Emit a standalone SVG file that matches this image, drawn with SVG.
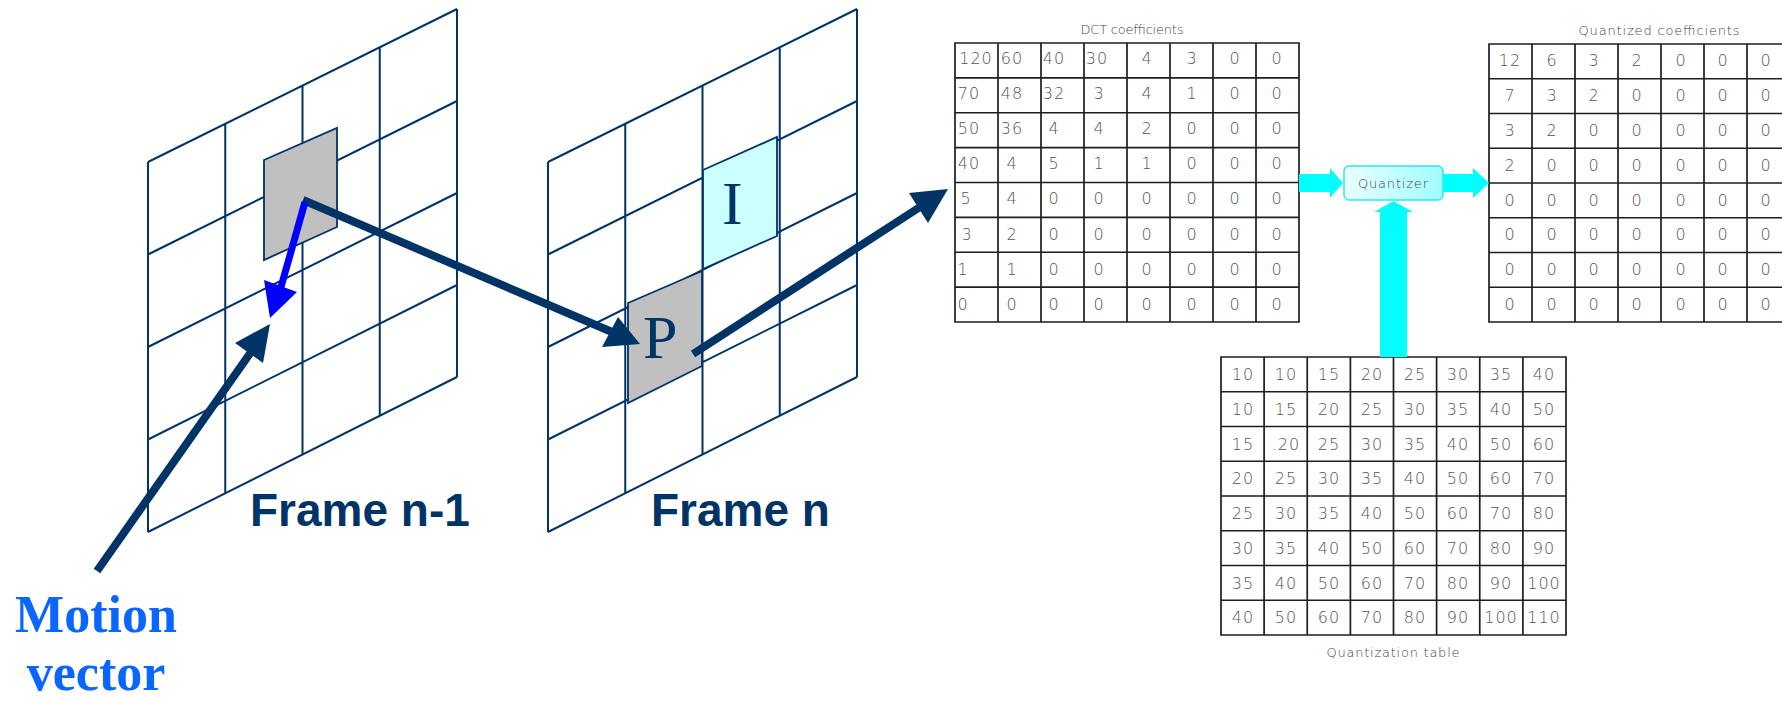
<svg xmlns="http://www.w3.org/2000/svg" width="1782" height="702" viewBox="0 0 1782 702">
  <defs>
    <linearGradient id="qbox" x1="0" y1="0" x2="1" y2="0">
      <stop offset="0" stop-color="#eaffff"/>
      <stop offset="1" stop-color="#9ffcff"/>
    </linearGradient>
    <style>
      .grid { fill: none; stroke: #003366; stroke-width: 2; }
      .blk { stroke: #003366; stroke-width: 1.8; }
      .mv { fill: none; stroke: #003366; stroke-width: 8; }
      .head { fill: #003366; }
      .cyan { fill: #00ffff; }
      .tbl { fill: none; stroke: #1e1e1e; stroke-width: 1.7; }
      .num { font-family: "DejaVu Sans", "Liberation Sans", sans-serif; font-size: 16px; font-weight: 300; fill: #555; text-anchor: middle; letter-spacing: 1px; }
      .cap { font-family: "DejaVu Sans", "Liberation Sans", sans-serif; font-size: 13px; font-weight: 300; fill: #444; text-anchor: middle; }
      .frame { font-family: "Liberation Sans", Arial, sans-serif; font-size: 46px; font-weight: bold; fill: #003366; }
      .blklabel { font-family: "Liberation Serif", "Times New Roman", serif; font-size: 62px; fill: #003366; }
      .motion { font-family: "Liberation Serif", "Times New Roman", serif; font-size: 52px; font-weight: bold; fill: #0a66ff; text-anchor: middle; }
    </style>
  </defs>
  <rect width="1782" height="702" fill="#ffffff"/>

  <!-- previous frame: 4x4 macroblock grid seen in perspective -->
  <g id="frame-prev">
    <path class="grid" d="M148,162 L148,532 M225.25,123.75 L225.25,493.25 M302.5,85.5 L302.5,454.5 M379.75,47.25 L379.75,415.75 M457,9 L457,377
      M148,162 L457,9 M148,254.5 L457,101 M148,347 L457,193 M148,439.5 L457,285 M148,532 L457,377"/>
    <polygon class="blk" fill="#c0c0c0" points="264,160 337,128 337,227 264,260"/>
    <text class="frame" x="250" y="526">Frame n-1</text>
  </g>

  <!-- current frame with intra and predicted blocks -->
  <g id="frame-curr">
    <path class="grid" d="M548,162 L548,532 M625.25,123.75 L625.25,493.25 M702.5,85.5 L702.5,454.5 M779.75,47.25 L779.75,415.75 M857,9 L857,377
      M548,162 L857,9 M548,254.5 L857,101 M548,347 L857,193 M548,439.5 L857,285 M548,532 L857,377"/>
    <polygon class="blk" fill="#ccffff" points="703,170 777,137 777,236 703,269"/>
    <polygon class="blk" fill="#c0c0c0" points="628,303 702,271 702,366 628,403"/>
    <text class="blklabel" x="722" y="224">I</text>
    <text class="blklabel" x="643" y="358">P</text>
    <text class="frame" x="651" y="526">Frame n</text>
  </g>

  <!-- DCT coefficient block -->
  <g id="dct-table">
    <text class="cap" x="1132" y="34" textLength="103">DCT coefficients</text>
    <path class="tbl" d="M955,43 H1299 V322 H955 Z
      M998,43 V322 M1041,43 V322 M1084,43 V322 M1127,43 V322 M1170,43 V322 M1213,43 V322 M1256,43 V322
      M955,77.9 H1299 M955,112.75 H1299 M955,147.6 H1299 M955,182.5 H1299 M955,217.4 H1299 M955,252.25 H1299 M955,287.1 H1299"/>
    <g class="num">
      <text x="976" y="64">120</text><text x="1012" y="64">60</text><text x="1054" y="64">40</text><text x="1097" y="64">30</text><text x="1147" y="64">4</text><text x="1192" y="64">3</text><text x="1235" y="64">0</text><text x="1277" y="64">0</text>
      <text x="969" y="99">70</text><text x="1012" y="99">48</text><text x="1054" y="99">32</text><text x="1099" y="99">3</text><text x="1147" y="99">4</text><text x="1192" y="99">1</text><text x="1235" y="99">0</text><text x="1277" y="99">0</text>
      <text x="969" y="134">50</text><text x="1012" y="134">36</text><text x="1054" y="134">4</text><text x="1099" y="134">4</text><text x="1147" y="134">2</text><text x="1192" y="134">0</text><text x="1235" y="134">0</text><text x="1277" y="134">0</text>
      <text x="969" y="169">40</text><text x="1012" y="169">4</text><text x="1054" y="169">5</text><text x="1099" y="169">1</text><text x="1147" y="169">1</text><text x="1192" y="169">0</text><text x="1235" y="169">0</text><text x="1277" y="169">0</text>
      <text x="966" y="204">5</text><text x="1012" y="204">4</text><text x="1054" y="204">0</text><text x="1099" y="204">0</text><text x="1147" y="204">0</text><text x="1192" y="204">0</text><text x="1235" y="204">0</text><text x="1277" y="204">0</text>
      <text x="967" y="240">3</text><text x="1012" y="240">2</text><text x="1054" y="240">0</text><text x="1099" y="240">0</text><text x="1147" y="240">0</text><text x="1192" y="240">0</text><text x="1235" y="240">0</text><text x="1277" y="240">0</text>
      <text x="963" y="275">1</text><text x="1012" y="275">1</text><text x="1054" y="275">0</text><text x="1099" y="275">0</text><text x="1147" y="275">0</text><text x="1192" y="275">0</text><text x="1235" y="275">0</text><text x="1277" y="275">0</text>
      <text x="963" y="310">0</text><text x="1012" y="310">0</text><text x="1054" y="310">0</text><text x="1099" y="310">0</text><text x="1147" y="310">0</text><text x="1192" y="310">0</text><text x="1235" y="310">0</text><text x="1277" y="310">0</text>
    </g>
  </g>

  <!-- quantizer stage -->
  <g id="quantizer">
    <rect x="1344" y="166" width="99" height="34" rx="5" ry="5" fill="url(#qbox)" stroke="#2ee8f2" stroke-width="1.5"/>
    <text class="cap" x="1393" y="188" font-size="15" fill="#333" textLength="70">Quantizer</text>
  </g>

  <!-- quantized output block (runs past the right edge) -->
  <g id="quantized-table">
    <text class="cap" x="1659" y="35" textLength="161">Quantized coefficients</text>
    <path class="tbl" d="M1800,44 H1489 V322 H1800
      M1532,44 V322 M1575,44 V322 M1618,44 V322 M1661,44 V322 M1704,44 V322 M1747,44 V322
      M1489,78.75 H1800 M1489,113.5 H1800 M1489,148.25 H1800 M1489,183 H1800 M1489,217.75 H1800 M1489,252.5 H1800 M1489,287.25 H1800"/>
    <g class="num">
      <text x="1510" y="66">12</text><text x="1552" y="66">6</text><text x="1594" y="66">3</text><text x="1637" y="66">2</text><text x="1681" y="66">0</text><text x="1723" y="66">0</text><text x="1766" y="66">0</text>
      <text x="1510" y="101">7</text><text x="1552" y="101">3</text><text x="1594" y="101">2</text><text x="1637" y="101">0</text><text x="1681" y="101">0</text><text x="1723" y="101">0</text><text x="1766" y="101">0</text>
      <text x="1510" y="136">3</text><text x="1552" y="136">2</text><text x="1594" y="136">0</text><text x="1637" y="136">0</text><text x="1681" y="136">0</text><text x="1723" y="136">0</text><text x="1766" y="136">0</text>
      <text x="1510" y="171">2</text><text x="1552" y="171">0</text><text x="1594" y="171">0</text><text x="1637" y="171">0</text><text x="1681" y="171">0</text><text x="1723" y="171">0</text><text x="1766" y="171">0</text>
      <text x="1510" y="206">0</text><text x="1552" y="206">0</text><text x="1594" y="206">0</text><text x="1637" y="206">0</text><text x="1681" y="206">0</text><text x="1723" y="206">0</text><text x="1766" y="206">0</text>
      <text x="1510" y="240">0</text><text x="1552" y="240">0</text><text x="1594" y="240">0</text><text x="1637" y="240">0</text><text x="1681" y="240">0</text><text x="1723" y="240">0</text><text x="1766" y="240">0</text>
      <text x="1510" y="275">0</text><text x="1552" y="275">0</text><text x="1594" y="275">0</text><text x="1637" y="275">0</text><text x="1681" y="275">0</text><text x="1723" y="275">0</text><text x="1766" y="275">0</text>
      <text x="1510" y="310">0</text><text x="1552" y="310">0</text><text x="1594" y="310">0</text><text x="1637" y="310">0</text><text x="1681" y="310">0</text><text x="1723" y="310">0</text><text x="1766" y="310">0</text>
    </g>
  </g>

  <!-- quantization step sizes -->
  <g id="quant-table">
    <path class="tbl" d="M1221,357 H1566 V635 H1221 Z
      M1264.1,357 V635 M1307.25,357 V635 M1350.4,357 V635 M1393.5,357 V635 M1436.6,357 V635 M1479.75,357 V635 M1522.9,357 V635
      M1221,391.75 H1566 M1221,426.5 H1566 M1221,461.25 H1566 M1221,496 H1566 M1221,530.75 H1566 M1221,565.5 H1566 M1221,600.25 H1566"/>
    <g class="num">
      <text x="1243" y="380">10</text><text x="1286" y="380">10</text><text x="1329" y="380">15</text><text x="1372" y="380">20</text><text x="1415" y="380">25</text><text x="1458" y="380">30</text><text x="1501" y="380">35</text><text x="1544" y="380">40</text>
      <text x="1243" y="415">10</text><text x="1286" y="415">15</text><text x="1329" y="415">20</text><text x="1372" y="415">25</text><text x="1415" y="415">30</text><text x="1458" y="415">35</text><text x="1501" y="415">40</text><text x="1544" y="415">50</text>
      <text x="1243" y="449.5">15</text><text x="1286" y="449.5">.20</text><text x="1329" y="449.5">25</text><text x="1372" y="449.5">30</text><text x="1415" y="449.5">35</text><text x="1458" y="449.5">40</text><text x="1501" y="449.5">50</text><text x="1544" y="449.5">60</text>
      <text x="1243" y="484">20</text><text x="1286" y="484">25</text><text x="1329" y="484">30</text><text x="1372" y="484">35</text><text x="1415" y="484">40</text><text x="1458" y="484">50</text><text x="1501" y="484">60</text><text x="1544" y="484">70</text>
      <text x="1243" y="519">25</text><text x="1286" y="519">30</text><text x="1329" y="519">35</text><text x="1372" y="519">40</text><text x="1415" y="519">50</text><text x="1458" y="519">60</text><text x="1501" y="519">70</text><text x="1544" y="519">80</text>
      <text x="1243" y="554">30</text><text x="1286" y="554">35</text><text x="1329" y="554">40</text><text x="1372" y="554">50</text><text x="1415" y="554">60</text><text x="1458" y="554">70</text><text x="1501" y="554">80</text><text x="1544" y="554">90</text>
      <text x="1243" y="588.5">35</text><text x="1286" y="588.5">40</text><text x="1329" y="588.5">50</text><text x="1372" y="588.5">60</text><text x="1415" y="588.5">70</text><text x="1458" y="588.5">80</text><text x="1501" y="588.5">90</text><text x="1544" y="588.5">100</text>
      <text x="1243" y="623">40</text><text x="1286" y="623">50</text><text x="1329" y="623">60</text><text x="1372" y="623">70</text><text x="1415" y="623">80</text><text x="1458" y="623">90</text><text x="1501" y="623">100</text><text x="1544" y="623">110</text>
    </g>
    <text class="cap" x="1393" y="657" textLength="133">Quantization table</text>
  </g>

  <!-- label for the motion vector -->
  <g id="label-motion">
    <text class="motion" x="96" y="632">Motion</text>
    <text class="motion" x="96" y="690">vector</text>
  </g>

  <!-- connectors: motion-compensation arrows and the cyan data-flow arrows -->
  <g id="connectors">
    <line class="mv" x1="303" y1="200" x2="612" y2="332"/>
    <polygon class="head" points="640,344 602,347 618,317"/>
    <line x1="305" y1="202" x2="281" y2="287" stroke="#0000ff" stroke-width="7"/>
    <polygon fill="#0000ff" points="270,318 264,280 297,292"/>
    <line class="mv" x1="97" y1="571" x2="251" y2="352"/>
    <polygon class="head" points="270,324 235,343 263,363"/>
    <line class="mv" x1="693" y1="354" x2="920" y2="207"/>
    <polygon class="head" points="948,189 909,193 928,223"/>
    <polygon class="cyan" points="1299,174 1330,174 1330,168 1343,183 1330,198 1330,192 1299,192"/>
    <polygon class="cyan" points="1443,174 1473,174 1473,168 1489,183 1473,198 1473,192 1443,192"/>
    <polygon class="cyan" points="1380,357 1380,212 1374,212 1393.5,201 1413,212 1407,212 1407,357"/>
  </g>
</svg>
